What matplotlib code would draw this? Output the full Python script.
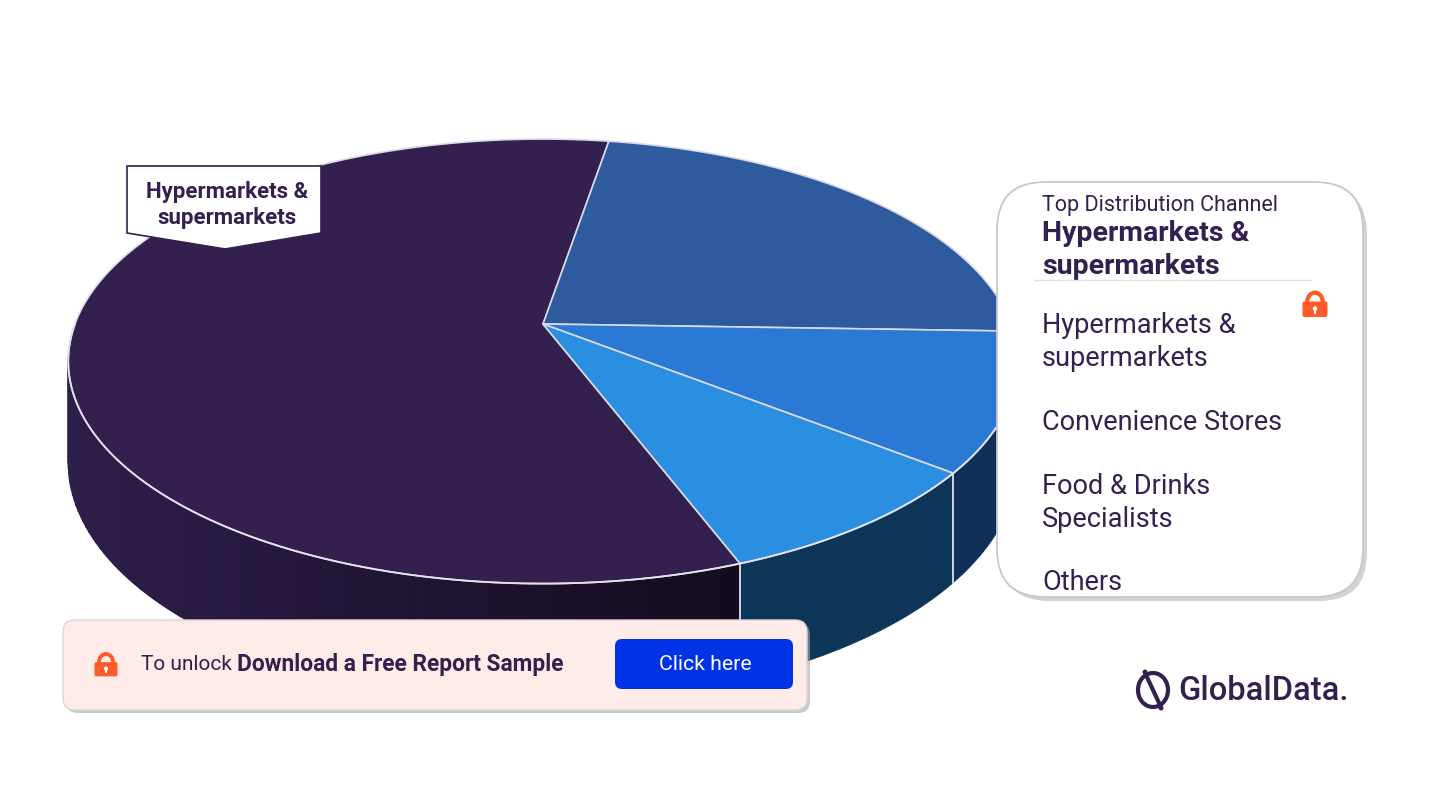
import numpy as np
import matplotlib
matplotlib.use("Agg")
import matplotlib.pyplot as plt
from matplotlib.patches import Polygon, FancyBboxPatch, Circle, Arc
from matplotlib.colors import to_rgb

plt.rcParams['font.family'] = ['Roboto', 'DejaVu Sans']

# data (share of distribution channel, %)
channels = ["Hypermarkets & supermarkets", "Convenience Stores",
            "Food & Drinks Specialists", "Others"]
legend_lines = ["Hypermarkets &\nsupermarkets", "Convenience Stores",
                "Food & Drinks\nSpecialists", "Others"]
shares = [58.4, 22.9, 10.1, 8.6]
top_colors = ["#33204f", "#2e5b9e", "#2979d5", "#2a8fe1"]
side_colors = ["#2d1e4a", "#1a3560", "#10305a", "#0d3558"]
top_channel = "Hypermarkets &\nsupermarkets"

PURPLE = "#33204f"
ORANGE = "#ff5a2a"

# 3d pie geometry (pixels)
cx, cy = 543, 325
sx, sy = 468, 216
k = 0.168
depth = 98
start_deg = 290.8


def proj(t, d=0.0, r=1.0):
    X = r * np.cos(t)
    Z = r * np.sin(t)
    w = 1 + k * Z
    return cx + sx * X / w, cy - sy * Z / w + d * depth / w


fig = plt.figure(figsize=(14.3, 8.04), dpi=100)
ax = fig.add_axes([0, 0, 1, 1])
ax.set_xlim(0, 1430)
ax.set_ylim(804, 0)
ax.axis("off")

# slice angle ranges (clockwise from start)
angles = []
a = start_deg
for s in shares:
    span = s / sum(shares) * 360
    angles.append((a - span, a))
    a -= span

# outer side walls (front half only)
for i, (lo, hi) in enumerate(angles):
    for m in range(-2, 2):
        l2 = max(lo, 180 + 360 * m)
        h2 = min(hi, 360 + 360 * m)
        if h2 <= l2:
            continue
        if i == 0:
            # gradient on the big slice side
            edges = np.linspace(l2, h2, 90)
            c0 = np.array(to_rgb("#2d1e4a"))
            c1 = np.array(to_rgb("#130b1e"))
            for e0, e1 in zip(edges[:-1], edges[1:]):
                ts = np.radians(np.linspace(e0, e1, 4))
                xt, yt = proj(ts)
                xb, yb = proj(ts[::-1], 1)
                xm = proj(np.radians((e0 + e1) / 2))[0]
                f = np.clip((xm - 70) / (740 - 70), 0, 1)
                col = c0 * (1 - f) + c1 * f
                ax.add_patch(Polygon(np.c_[np.r_[xt, xb], np.r_[yt, yb]],
                                     closed=True, fc=col, ec=col, lw=0.8,
                                     zorder=1))
        else:
            ts = np.radians(np.linspace(l2, h2, 80))
            xt, yt = proj(ts)
            xb, yb = proj(ts[::-1], 1)
            ax.add_patch(Polygon(np.c_[np.r_[xt, xb], np.r_[yt, yb]],
                                 closed=True, fc=side_colors[i],
                                 ec=side_colors[i], lw=0.6, zorder=1))

# white lines on the side at slice boundaries
for lo, hi in angles:
    for b in (lo, hi):
        if np.sin(np.radians(b)) < -0.05:
            x0, y0 = proj(np.radians(b))
            x1, y1 = proj(np.radians(b), 1)
            ax.plot([x0, x1], [y0, y1], color="#d0d4e4", lw=1.2, zorder=2)

# top faces
for i, (lo, hi) in enumerate(angles):
    ts = np.radians(np.linspace(lo, hi, 200))
    xt, yt = proj(ts)
    ax.add_patch(Polygon(np.c_[np.r_[cx, xt], np.r_[cy, yt]], closed=True,
                         fc=top_colors[i], ec="#d8dae8", lw=1.2,
                         joinstyle="round", zorder=3))

# front rim highlight
ts = np.radians(np.linspace(180, 360, 300))
xt, yt = proj(ts)
ax.plot(xt, yt, color="#e2e2ee", lw=1.3, zorder=4)

# callout label on the big slice
lab = np.array([[127, 167], [321, 167], [321, 234], [225, 250], [127, 234]])
ax.add_patch(Polygon(lab, closed=True, fc="white", ec=PURPLE, lw=1.2,
                     zorder=5))
ax.text(227, 205, top_channel, ha="center", va="center", fontsize=16,
        fontweight="bold", color=PURPLE, linespacing=1.2, zorder=6)

# right panel
ax.add_patch(FancyBboxPatch((1001, 187), 366, 415,
                            boxstyle="round,pad=0,rounding_size=48",
                            fc="#b0b0b0", ec="none", alpha=0.55, zorder=5))
ax.add_patch(FancyBboxPatch((997, 183), 366, 415,
                            boxstyle="round,pad=0,rounding_size=48",
                            fc="white", ec="#c8c8c8", lw=1.3, zorder=5))
ax.text(1042, 205, "Top Distribution Channel", ha="left", va="center",
        fontsize=15.5, color=PURPLE, zorder=6)
ax.text(1042, 250, top_channel, ha="left", va="center", fontsize=20.5,
        fontweight="bold", color=PURPLE, linespacing=1.29, zorder=6)
ax.plot([1034, 1311], [281, 281], color="#e2e2e2", lw=1, zorder=6)

ys = [342, 423, 503, 583]
for txt, yy in zip(legend_lines, ys):
    ax.text(1042, yy, txt, ha="left", va="center", fontsize=19.5,
            color=PURPLE, linespacing=1.25, zorder=6)


def lock(x, y, s):
    # x, y = centre of the body, s = body width
    ax.add_patch(Arc((x, y - s * 0.28), s * 0.62, s * 0.75, theta1=180,
                     theta2=360, color=ORANGE, lw=s * 0.12, zorder=7))
    ax.add_patch(FancyBboxPatch((x - s / 2, y - s * 0.3), s, s * 0.62,
                                boxstyle="round,pad=0,rounding_size=%f" % (s * 0.08),
                                fc=ORANGE, ec="none", zorder=7))
    ax.add_patch(Circle((x, y - s * 0.02), s * 0.09, fc="white", ec="none",
                        zorder=8))
    ax.plot([x, x], [y, y + s * 0.15], color="white", lw=s * 0.06, zorder=8)


lock(1315, 310, 25)

# bottom banner
ax.add_patch(FancyBboxPatch((66, 624), 744, 90,
                            boxstyle="round,pad=0,rounding_size=12",
                            fc="#a8a8a8", ec="none", alpha=0.6, zorder=5))
ax.add_patch(FancyBboxPatch((63, 621), 744, 90,
                            boxstyle="round,pad=0,rounding_size=12",
                            fc="#ffece9", ec="#d8d8d8", lw=1, zorder=5))
lock(106, 670, 23)
ax.text(141, 665, "To unlock", ha="left", va="center", fontsize=15,
        color=PURPLE, zorder=6)
ax.text(237, 665, "Download a Free Report Sample", ha="left", va="center",
        fontsize=16.4, fontweight="bold", color=PURPLE, zorder=6)
ax.add_patch(FancyBboxPatch((615, 640), 178, 50,
                            boxstyle="round,pad=0,rounding_size=7",
                            fc="#0033e6", ec="none", zorder=6))
ax.text(705, 665, "Click here", ha="center", va="center", fontsize=15.3,
        color="white", zorder=7)

# logo
ax.add_patch(Arc((1153, 691), 30, 34, theta1=0, theta2=360, color=PURPLE,
                 lw=3, zorder=6))
ax.plot([1146, 1160], [676, 706], color=PURPLE, lw=3, zorder=6)
ax.add_patch(Circle((1145, 673), 2.5, fc=PURPLE, ec="none", zorder=6))
ax.add_patch(Circle((1161, 709), 2.5, fc=PURPLE, ec="none", zorder=6))
ax.text(1178, 691, "GlobalData.", ha="left", va="center", fontsize=23.5,
        fontweight="medium", color=PURPLE, zorder=6)

fig.savefig("out.png", dpi=100)
